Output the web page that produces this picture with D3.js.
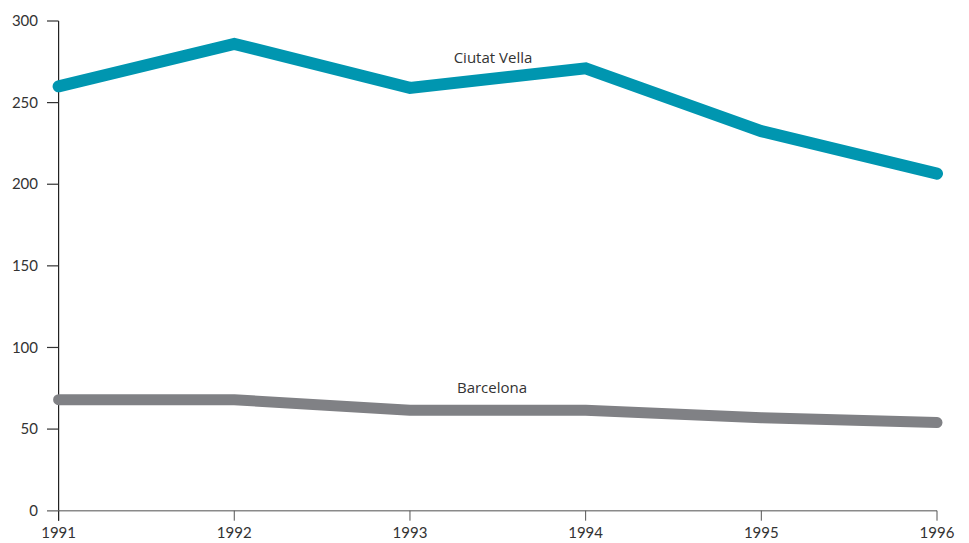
<!DOCTYPE html>
<html>
<head>
<meta charset="utf-8">
<script src="https://cdn.jsdelivr.net/npm/d3@7"></script>
<style>
  html, body { margin: 0; padding: 0; background: #fff; }
  svg text { font-family: Lato, "Open Sans", sans-serif; fill: #333; }
  svg text.series-label { font-family: "Open Sans", "Noto Sans", sans-serif; }
</style>
</head>
<body>
<svg id="chart" width="969" height="543"></svg>
<script>
// Years on the x axis
const years = [1991, 1992, 1993, 1994, 1995, 1996];
// Series values
const ciutatVella = [260, 286, 259, 271, 232.5, 206.5];
const barcelona = [68, 68, 61.5, 61.5, 57, 54];
// Y axis ticks
const yTicks = [0, 50, 100, 150, 200, 250, 300];

const svg = d3.select("#chart");
const x = d3.scaleLinear().domain([1991, 1996]).range([58.6, 937]);
const y = d3.scaleLinear().domain([0, 300]).range([510.7, 21]);

// X axis: grey baseline with downward ticks
const xAxis = svg.append("g").attr("transform", `translate(0,${y(0)})`);
xAxis.append("line")
  .attr("x1", 47).attr("x2", x(1996))
  .attr("stroke", "#8a8a8a").attr("stroke-width", 1.5);
xAxis.selectAll("line.tick").data(years).enter().append("line")
  .attr("class", "tick")
  .attr("x1", d => x(d)).attr("x2", d => x(d))
  .attr("y1", 0).attr("y2", 10)
  .attr("stroke", "#555").attr("stroke-width", 1);
xAxis.selectAll("text").data(years).enter().append("text")
  .attr("x", d => x(d)).attr("y", 27)
  .attr("text-anchor", "middle")
  .attr("font-size", 15)
  .text(d => d);

// Y axis: dark vertical line with left ticks
const yAxis = svg.append("g");
yAxis.append("line")
  .attr("x1", x(1991)).attr("x2", x(1991))
  .attr("y1", y(300)).attr("y2", y(0) + 10)
  .attr("stroke", "#222").attr("stroke-width", 1.2);
yAxis.selectAll("line.tick").data(yTicks).enter().append("line")
  .attr("class", "tick")
  .attr("x1", 47).attr("x2", x(1991))
  .attr("y1", d => y(d)).attr("y2", d => y(d))
  .attr("stroke", d => d === 0 ? "#8a8a8a" : "#333").attr("stroke-width", 1.2);
yAxis.selectAll("text").data(yTicks).enter().append("text")
  .attr("x", 38).attr("y", d => y(d))
  .attr("dy", "0.35em")
  .attr("text-anchor", "end")
  .attr("font-size", 15)
  .text(d => d);

const line = d3.line().x((d, i) => x(years[i])).y(d => y(d));

svg.append("path")
  .datum(barcelona)
  .attr("d", line)
  .attr("fill", "none")
  .attr("stroke", "#808185")
  .attr("stroke-width", 11)
  .attr("stroke-linecap", "round")
  .attr("stroke-linejoin", "round");

svg.append("path")
  .datum(ciutatVella)
  .attr("d", line)
  .attr("fill", "none")
  .attr("stroke", "#0096b0")
  .attr("stroke-width", 12)
  .attr("stroke-linecap", "round")
  .attr("stroke-linejoin", "miter");

// Series labels
svg.append("text")
  .attr("class", "series-label")
  .attr("x", 493).attr("y", 63)
  .attr("text-anchor", "middle")
  .attr("font-size", 15)
  .text("Ciutat Vella");
svg.append("text")
  .attr("class", "series-label")
  .attr("x", 492).attr("y", 393)
  .attr("text-anchor", "middle")
  .attr("font-size", 15)
  .text("Barcelona");
</script>
</body>
</html>
